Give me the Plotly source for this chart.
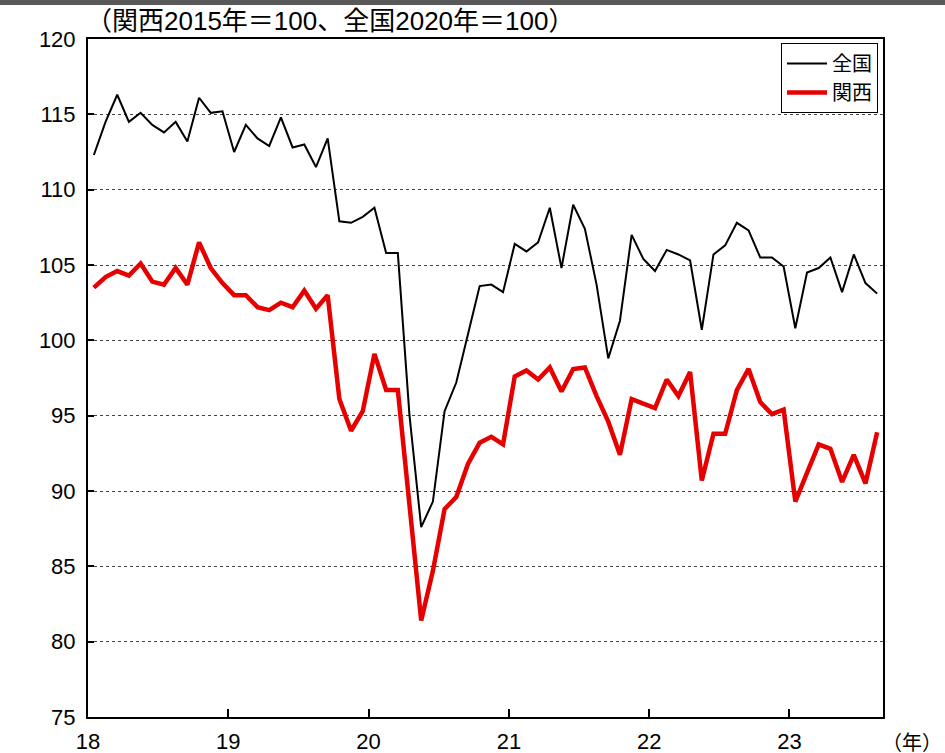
import plotly.graph_objects as go

# Monthly data Jan 2018 - Aug 2023
start_year = 18
n_months = 68
zenkoku = [112.3, 114.5, 116.3, 114.5, 115.1, 114.3, 113.8, 114.5, 113.2, 116.1, 115.1, 115.2,
           112.5, 114.3, 113.4, 112.9, 114.8, 112.8, 113.0, 111.5, 113.4, 107.9, 107.8, 108.2,
           108.8, 105.8, 105.8, 95.0, 87.6, 89.3, 95.3, 97.2, 100.4, 103.6, 103.7, 103.2,
           106.4, 105.9, 106.5, 108.8, 104.8, 109.0, 107.4, 103.7, 98.8, 101.3, 107.0, 105.4,
           104.6, 106.0, 105.7, 105.3, 100.7, 105.7, 106.3, 107.8, 107.3, 105.5, 105.5, 104.9,
           100.8, 104.5, 104.8, 105.5, 103.2, 105.7, 103.8, 103.1]
kansai = [103.5, 104.2, 104.6, 104.3, 105.1, 103.9, 103.7, 104.8, 103.7, 106.5, 104.8, 103.8,
          103.0, 103.0, 102.2, 102.0, 102.5, 102.2, 103.3, 102.1, 103.0, 96.1, 94.0, 95.3,
          99.1, 96.7, 96.7, 89.0, 81.4, 84.7, 88.8, 89.6, 91.8, 93.2, 93.6, 93.1,
          97.6, 98.0, 97.4, 98.2, 96.6, 98.1, 98.2, 96.3, 94.6, 92.4, 96.1, 95.8,
          95.5, 97.4, 96.3, 97.9, 90.7, 93.8, 93.8, 96.7, 98.1, 95.9, 95.1, 95.4,
          89.3, 91.2, 93.1, 92.8, 90.6, 92.4, 90.5, 93.9]
year_ticks = [18, 19, 20, 21, 22, 23]
year_labels = ["18", "19", "20", "21", "22", "23"]
y_ticks = [75, 80, 85, 90, 95, 100, 105, 110, 115, 120]

x = [start_year + (i + 0.5) / 12 for i in range(n_months)]

W, H = 945, 753
L, R, T, B = 88, 883, 39, 717

def px_x(p):
    return (p - L) / (R - L)

def px_y(p):
    return (B - p) / (B - T)

num_font = "Liberation Sans, Arial, sans-serif"
jp_font = "Liberation Sans, Noto Sans CJK JP, sans-serif"

fig = go.Figure()
fig.add_trace(go.Scatter(x=x, y=zenkoku, mode="lines", name="全国",
                         line=dict(color="#000000", width=2)))
fig.add_trace(go.Scatter(x=x, y=kansai, mode="lines", name="関西",
                         line=dict(color="#E60000", width=4.5)))

fig.update_layout(
    width=W, height=H,
    margin=dict(l=L, r=W - R, t=T, b=H - B, pad=0, autoexpand=False),
    paper_bgcolor="white", plot_bgcolor="white",
    showlegend=True,
    legend=dict(x=px_x(878), y=px_y(43), xanchor="right", yanchor="top",
                bordercolor="#000000", borderwidth=1, bgcolor="white",
                font=dict(family=jp_font, size=20, color="#000000"),
                tracegroupgap=0, itemwidth=40, traceorder="normal",
                entrywidth=70, entrywidthmode="pixels"),
    xaxis=dict(range=[start_year, start_year + n_months / 12],
               tickvals=year_ticks, ticktext=year_labels,
               ticks="inside", ticklen=8, tickwidth=1.5, tickcolor="#000000",
               showline=True, linecolor="#000000", linewidth=2, mirror=True,
               showgrid=False, zeroline=False, automargin=False,
               tickfont=dict(family=num_font, size=22, color="#000000"),
               ticklabelstandoff=4),
    yaxis=dict(range=[75, 120], tickvals=y_ticks,
               ticks="inside", ticklen=6, tickwidth=2, tickcolor="#000000",
               showline=True, linecolor="#000000", linewidth=2, mirror=True,
               showgrid=True, gridcolor="#444444", gridwidth=1, griddash="dot",
               zeroline=False, automargin=False,
               tickfont=dict(family=num_font, size=22, color="#000000"),
               ticklabelstandoff=6),
)

fig.add_annotation(text="（関西2015年＝100、全国2020年＝100）", xref="paper", yref="paper",
                   x=px_x(84), y=px_y(21), xanchor="left", yanchor="middle",
                   showarrow=False, font=dict(family=jp_font, size=26, color="#000000"))
fig.add_annotation(text="（年）", xref="paper", yref="paper",
                   x=px_x(944), y=px_y(743), xanchor="right", yanchor="middle",
                   showarrow=False, font=dict(family=jp_font, size=20, color="#000000"))

fig.add_shape(type="rect", xref="paper", yref="paper",
              x0=px_x(0), x1=px_x(W), y0=px_y(5), y1=px_y(0),
              fillcolor="#595959", line=dict(width=0), layer="above")

fig.write_html("out.html", config={"displayModeBar": False},
               post_script="document.body.style.margin='0';document.body.style.overflow='hidden';")
